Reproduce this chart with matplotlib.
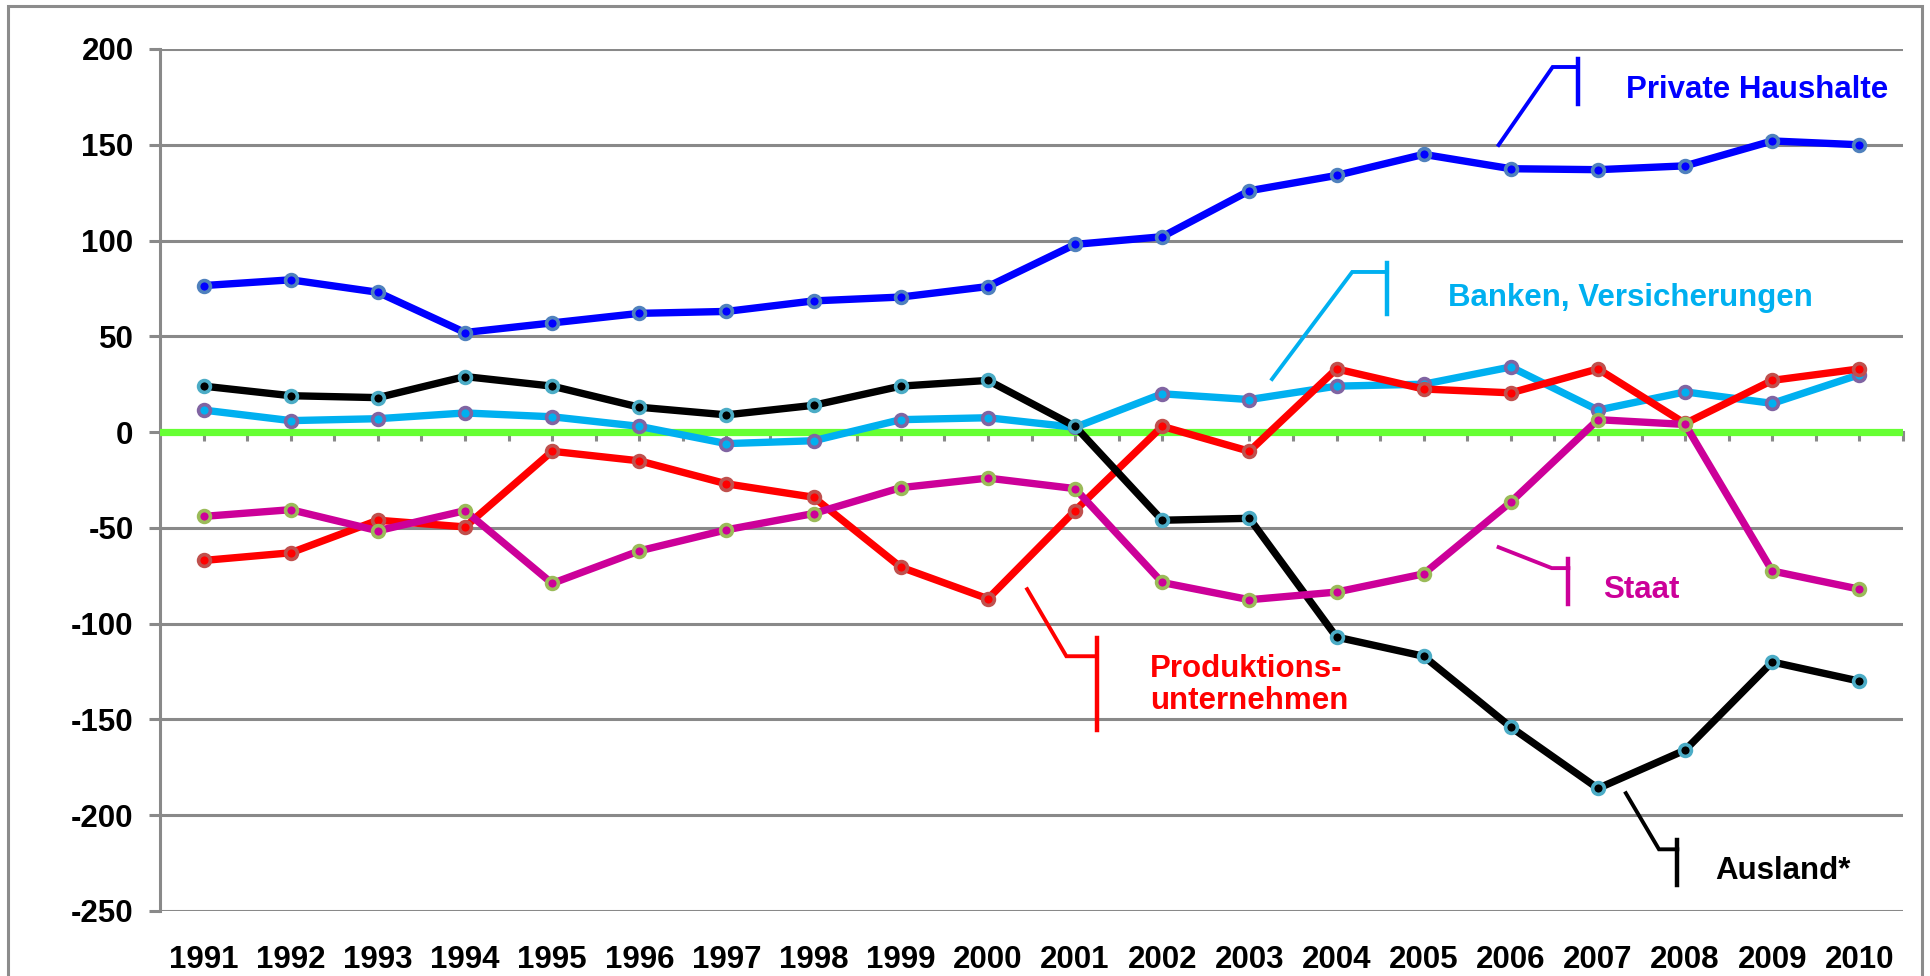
import matplotlib
matplotlib.use("Agg")
import matplotlib.pyplot as plt
import numpy as np
from matplotlib.patches import Rectangle

years = [str(y) for y in range(1991, 2011)]
private_haushalte = [76.5, 79.5, 73, 52, 57, 62, 63, 68.5, 70.5, 76, 98, 102, 126, 134, 145, 137.5, 137, 139, 152, 150]
ausland = [24, 19, 18, 29, 24, 13, 9, 14, 24, 27, 3, -46, -45, -107, -117, -154, -186, -166, -120, -130]
banken = [11.5, 6, 7, 10, 8, 3, -6, -4.5, 6.5, 7.5, 2.5, 20, 17, 24, 25, 34, 11.5, 21, 15, 30]
produktion = [-67, -63, -46, -49.5, -10, -15, -27, -34, -70.5, -87, -41, 3, -10, 33, 22.5, 20.5, 33, 4.5, 27, 33]
staat = [-44, -40.5, -51.5, -41, -79, -62, -51, -42.5, -29, -24, -29.5, -78.5, -87.5, -83.5, -74, -36.5, 6.5, 4, -72.5, -82]

yticks = [200, 150, 100, 50, 0, -50, -100, -150, -200, -250]

plt.rcParams['font.family'] = ['Liberation Sans', 'DejaVu Sans']
plt.rcParams['font.weight'] = 'bold'

W, H = 1930, 976
fig = plt.figure(figsize=(W / 100, H / 100), dpi=100)
ax = fig.add_axes([160 / W, 1 - 911 / H, (1903 - 160) / W, (911 - 49) / H])

x = np.arange(len(years)) + 0.5
grid_c = '#898989'
fs = 22.5

ax.set_xlim(0, 20)
ax.set_ylim(-250, 200)
ax.set_yticks(yticks)
ax.set_yticklabels([str(v) for v in yticks], fontsize=fs, fontweight='bold')
for yv in yticks:
    ax.axhline(yv, color=grid_c, lw=2.2, zorder=1)

for s in ['top', 'right']:
    ax.spines[s].set_visible(False)
ax.spines['left'].set_color(grid_c)
ax.spines['left'].set_linewidth(2.2)
ax.spines['bottom'].set_position(('data', 0))
ax.spines['bottom'].set_color(grid_c)
ax.spines['bottom'].set_linewidth(2.2)
ax.tick_params(axis='y', length=8, width=2.2, color=grid_c, pad=11)
ax.set_xticks(np.arange(0.5, 20.01, 0.5))
ax.tick_params(axis='x', length=6.5, width=2.2, color=grid_c, labelbottom=False, direction='out')

for xi, lab in zip(x, years):
    ax.text(xi, -0.057, lab, transform=ax.get_xaxis_transform(), ha='center', va='center',
            fontsize=fs, fontweight='bold', color='black')

# zero line
ax.axhline(0, color='#66FF33', lw=5.2, zorder=3)

lw = 5.3
ms = 8.5
mew = 2.6
ax.plot(x, banken, color='#00B0F0', lw=lw, marker='o', ms=ms, mfc='#00B0F0', mec='#8064A2', mew=mew, zorder=4)
ax.plot(x, produktion, color='#FF0000', lw=lw, marker='o', ms=ms, mfc='#FF0000', mec='#C0504D', mew=mew, zorder=5)
ax.plot(x, ausland, color='black', lw=lw, marker='o', ms=ms, mfc='black', mec='#4BACC6', mew=mew, zorder=6)
ax.plot(x, private_haushalte, color='#0000FF', lw=lw, marker='o', ms=ms, mfc='#0000FF', mec='#4F81BD', mew=mew, zorder=7)
ax.plot(x, staat, color='#CC0099', lw=lw, marker='o', ms=ms, mfc='#CC0099', mec='#9BBB59', mew=mew, zorder=8)

# callouts: (diagonal start, elbow, bar x, bar y range, text pos, text)
callouts = [
    ((15.36, 149.9), (15.98, 190.6), 16.27, (194.8, 171.3), (16.82, 178.6), 'Private Haushalte', '#0000FF'),
    ((12.76, 27.7), (13.68, 83.6), 14.08, (88.5, 61.6), (14.78, 70.0), 'Banken, Versicherungen', '#00B0F0'),
    ((9.95, -82.0), (10.40, -117.0), 10.75, (-107.6, -155.6), (11.36, -132.0), 'Produktions-\nunternehmen', '#FF0000'),
    ((15.36, -60.1), (15.97, -71.0), 16.16, (-66.3, -89.8), (16.56, -82.5), 'Staat', '#CC0099'),
    ((16.82, -188.5), (17.20, -217.8), 17.41, (-213.1, -236.6), (17.84, -229.2), 'Ausland*', 'black'),
]
for p0, p1, bx, (by0, by1), tp, txt, col in callouts:
    ax.plot([p0[0], p1[0], bx], [p0[1], p1[1], p1[1]], color=col, lw=2.8, zorder=9,
            solid_joinstyle='miter', clip_on=False)
    ax.plot([bx, bx], [by0, by1], color=col, lw=3.2, zorder=9, clip_on=False)
    ax.text(tp[0], tp[1], txt, color=col, fontsize=fs, fontweight='bold', ha='left', va='center',
            linespacing=1.05, zorder=10)

# outer border
fig.patches.append(Rectangle((8 / W, -0.02), (1922 - 8) / W, 1.02 - 6 / H, transform=fig.transFigure,
                             fill=False, edgecolor='#8C8C8C', lw=2.2))

fig.savefig('out.png', dpi=100)
